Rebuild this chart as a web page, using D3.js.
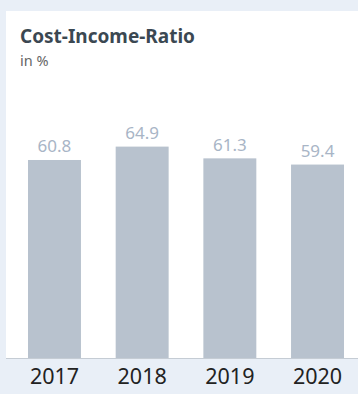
<!DOCTYPE html>
<meta charset="utf-8">
<style>
  body { margin: 0; background: #e9eff7; }
  svg { display: block; font-family: "Noto Sans", "Open Sans", sans-serif; }
  .title { font-size: 19px; font-weight: bold; fill: #3b4852; }
  .sub { font-size: 14.5px; fill: #666; }
  .val { font-size: 17px; fill: #a8b5c6; }
  .x-axis text { font-size: 21.5px; fill: #222; font-family: "Noto Sans", sans-serif; }
  .x-axis path, .x-axis line { stroke: none; }
</style>
<div id="chart"></div>
<script src="https://d3js.org/d3.v7.min.js"></script>
<script>
  var years = ["2017", "2018", "2019", "2020"];
  var ratios = [60.8, 64.9, 61.3, 59.4];

  var width = 358, height = 394;
  var baseY = 358.5;

  var svg = d3.select("#chart").append("svg")
      .attr("width", width)
      .attr("height", height);

  // white panel
  svg.append("rect")
      .attr("x", 6).attr("y", 11)
      .attr("width", width - 6).attr("height", baseY - 11)
      .attr("fill", "white");

  svg.append("text").attr("class", "title")
      .attr("x", 20).attr("y", 43)
      .text("Cost-Income-Ratio");
  svg.append("text").attr("class", "sub")
      .attr("x", 20).attr("y", 66)
      .text("in %");

  var x = d3.scaleBand().domain(years).range([28, 344]).paddingInner(0.396).paddingOuter(0);
  var y = d3.scaleLinear().domain([0, 100]).range([baseY, 32]);

  svg.selectAll(".bar")
    .data(ratios)
    .enter().append("rect")
      .attr("class", "bar")
      .attr("x", function(d, i) { return x(years[i]); })
      .attr("y", function(d) { return y(d); })
      .attr("width", x.bandwidth())
      .attr("height", function(d) { return baseY - y(d); })
      .attr("fill", "#b8c2ce");

  svg.selectAll(".val")
    .data(ratios)
    .enter().append("text")
      .attr("class", "val")
      .attr("text-anchor", "middle")
      .attr("x", function(d, i) { return x(years[i]) + x.bandwidth() / 2; })
      .attr("y", function(d) { return y(d) - 7.5; })
      .text(function(d) { return d.toFixed(1); });

  // baseline
  svg.append("line")
      .attr("x1", 6).attr("x2", width)
      .attr("y1", baseY).attr("y2", baseY)
      .attr("stroke", "#c5ccd4");

  svg.append("g")
      .attr("class", "x-axis")
      .attr("transform", "translate(0," + baseY + ")")
      .call(d3.axisBottom(x).tickSize(0).tickPadding(10));
</script>
